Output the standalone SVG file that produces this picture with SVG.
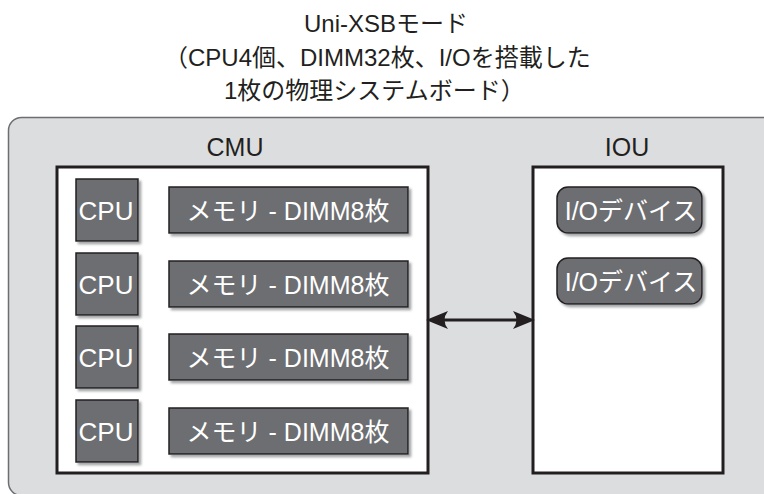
<svg xmlns="http://www.w3.org/2000/svg" width="764" height="494" viewBox="0 0 764 494">
  <style>
    .title { font-family: "Liberation Sans", "Noto Sans CJK JP", sans-serif; font-size: 24px; fill: #231f20; }
    .label { font-family: "Liberation Sans", "Noto Sans CJK JP", sans-serif; font-size: 25px; fill: #231f20; text-anchor: middle; }
    .part-text { font-family: "Liberation Sans", "Noto Sans CJK JP", sans-serif; font-size: 25px; fill: #ffffff; text-anchor: middle; }
    .cpu-text { font-size: 26px; }
    .unit { fill: #ffffff; stroke: #231f20; stroke-width: 3; }
    .part { fill: #6d6e71; stroke: #231f20; stroke-width: 1.5; filter: url(#shade); }
    .link { stroke: #231f20; stroke-width: 3; fill: none; }
  </style>
  <defs>
    <filter id="shade" x="-10%" y="-10%" width="130%" height="130%">
      <feDropShadow dx="2.5" dy="2.5" stdDeviation="0.8" flood-color="#9a9b9e" flood-opacity="0.9"/>
    </filter>
    <marker id="head" viewBox="0 0 22 18" refX="8" refY="9" markerWidth="22" markerHeight="18" markerUnits="userSpaceOnUse" orient="auto-start-reverse">
      <path d="M22,9 L0,0 Q7,9 0,18 Z" fill="#231f20"/>
    </marker>
  </defs>

  <rect width="764" height="494" fill="#ffffff"/>

  <!-- title -->
  <g id="title">
    <text class="title" x="304" y="32">Uni-XSBモード</text>
    <text class="title" x="164" y="66">（CPU4個、DIMM32枚、I/Oを搭載した</text>
    <text class="title" x="224" y="99">1枚の物理システムボード）</text>
  </g>

  <!-- physical system board -->
  <g id="board">
    <rect x="8.5" y="117.5" width="780" height="378" rx="13" fill="#dcdddf" stroke="#6d6e71" stroke-width="1.5"/>
  </g>

  <!-- CMU -->
  <g id="cmu">
    <text class="label" x="235" y="156">CMU</text>
    <rect class="unit" x="57" y="167" width="371" height="306"/>
  </g>

  <g id="cpu1"><rect class="part" x="76" y="179" width="62" height="62"/><text class="part-text cpu-text" x="106" y="220">CPU</text></g>
  <g id="cpu2"><rect class="part" x="76" y="253" width="62" height="62"/><text class="part-text cpu-text" x="106" y="294">CPU</text></g>
  <g id="cpu3"><rect class="part" x="76" y="326" width="62" height="62"/><text class="part-text cpu-text" x="106" y="367">CPU</text></g>
  <g id="cpu4"><rect class="part" x="76" y="400" width="62" height="62"/><text class="part-text cpu-text" x="106" y="441">CPU</text></g>

  <g id="mem1"><rect class="part" x="169" y="187" width="239" height="46"/><text class="part-text" x="288" y="220">メモリ - DIMM8枚</text></g>
  <g id="mem2"><rect class="part" x="169" y="261" width="239" height="46"/><text class="part-text" x="288" y="294">メモリ - DIMM8枚</text></g>
  <g id="mem3"><rect class="part" x="169" y="334" width="239" height="46"/><text class="part-text" x="288" y="367">メモリ - DIMM8枚</text></g>
  <g id="mem4"><rect class="part" x="169" y="408" width="239" height="46"/><text class="part-text" x="288" y="441">メモリ - DIMM8枚</text></g>

  <!-- IOU -->
  <g id="iou">
    <text class="label" x="627" y="156">IOU</text>
    <rect class="unit" x="533" y="167" width="190" height="306"/>
  </g>

  <g id="io1"><rect class="part" x="557" y="187" width="145" height="46" rx="11"/><text class="part-text" x="631" y="220">I/Oデバイス</text></g>
  <g id="io2"><rect class="part" x="557" y="258" width="145" height="46" rx="11"/><text class="part-text" x="631" y="291">I/Oデバイス</text></g>

  <!-- CMU to IOU link -->
  <g id="connectors">
    <line class="link" x1="440" y1="320" x2="521" y2="320" marker-start="url(#head)" marker-end="url(#head)"/>
  </g>
</svg>
